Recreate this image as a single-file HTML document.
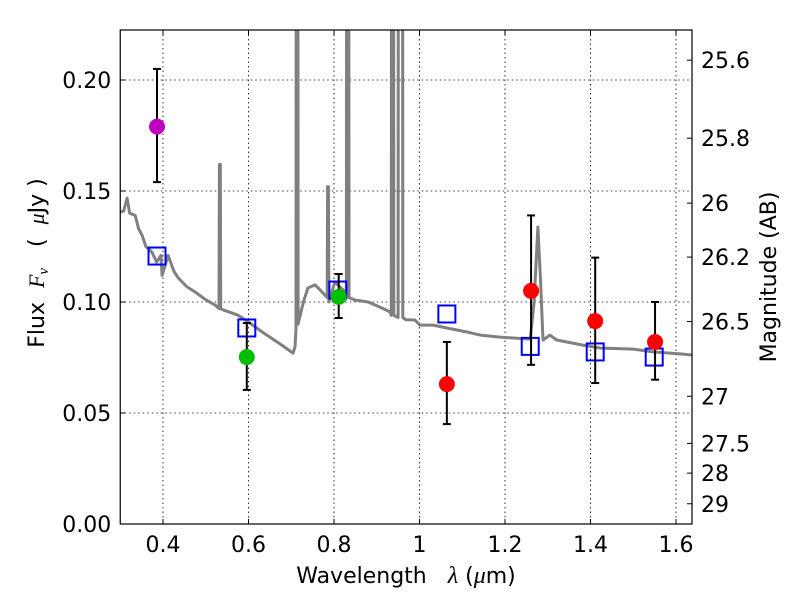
<!DOCTYPE html>
<html><head><meta charset="utf-8">
<style>
body{margin:0;background:#fff;}
svg text{font-family:"DejaVu Sans","Liberation Sans",sans-serif;}
</style></head>
<body>
<svg id="chart" width="800" height="600" viewBox="0 0 800 600" xmlns="http://www.w3.org/2000/svg">
<g id="grid"></g>
<g id="spec"></g>
<g id="marks"></g>
<rect x="120.25" y="30" width="571.75" height="494" fill="none" stroke="#000" stroke-width="1.2"/>
<g id="axes"></g>
<text x="406" y="583" font-size="22" text-anchor="middle" xml:space="preserve">Wavelength   <tspan font-family="Liberation Serif" font-style="italic" font-size="24">λ</tspan> (<tspan font-family="Liberation Serif" font-style="italic" font-size="24">μ</tspan>m)</text>
<text transform="translate(44,263) rotate(-90)" font-size="22" text-anchor="middle" xml:space="preserve">Flux  <tspan font-family="Liberation Serif" font-style="italic">F<tspan font-size="15" dy="4">ν</tspan></tspan><tspan dy="-4">   (  </tspan><tspan font-family="Liberation Serif" font-style="italic">μ</tspan>Jy )</text>
<text transform="translate(776,277) rotate(-90)" font-size="22" text-anchor="middle">Magnitude (AB)</text>
</svg>
<script>
const xTicks=[0.4,0.6,0.8,1,1.2,1.4,1.6];
const xTickLabels=["0.4","0.6","0.8","1","1.2","1.4","1.6"];
const yTicks=[0,0.05,0.10,0.15,0.20];
const yTickLabels=["0.00","0.05","0.10","0.15","0.20"];
const magTicks=[25.6,25.8,26,26.2,26.5,27,27.5,28,29];
const magLabels=["25.6","25.8","26","26.2","26.5","27","27.5","28","29"];
const specWave=[0.300,0.308,0.316,0.322,0.335,0.343,0.351,0.360,0.374,0.385,0.395,0.398,0.412,0.425,0.435,0.455,0.475,0.500,0.522,0.531,0.532,0.534,0.535,0.540,0.575,0.600,0.632,0.678,0.704,0.709,0.711,0.712,0.715,0.716,0.725,0.730,0.739,0.756,0.772,0.784,0.785,0.787,0.788,0.802,0.829,0.830,0.834,0.835,0.849,0.880,0.912,0.931,0.934,0.935,0.939,0.940,0.950,0.951,0.955,0.956,0.960,0.961,0.968,0.969,0.989,1.001,1.032,1.064,1.111,1.142,1.188,1.259,1.268,1.277,1.283,1.289,1.305,1.321,1.382,1.422,1.499,1.546,1.609,1.640];
const specFlux=[0.1405,0.141,0.1468,0.140,0.139,0.133,0.130,0.125,0.1225,0.118,0.121,0.112,0.121,0.114,0.111,0.107,0.1045,0.101,0.0986,0.097,0.162,0.162,0.097,0.0965,0.0941,0.091,0.0865,0.0806,0.077,0.080,0.0883,0.5,0.5,0.090,0.0973,0.101,0.1063,0.1077,0.1045,0.102,0.152,0.152,0.100,0.109,0.104,0.5,0.5,0.102,0.1009,0.100,0.0973,0.0955,0.094,0.5,0.5,0.094,0.093,0.5,0.5,0.5,0.5,0.093,0.092,0.092,0.0919,0.0896,0.0896,0.0883,0.0865,0.0851,0.0842,0.0833,0.100,0.1338,0.110,0.0829,0.0851,0.0829,0.0806,0.0793,0.0788,0.0775,0.0766,0.0761];
const obsWave=[0.386,0.596,0.811,1.064,1.261,1.411,1.551];
const obsFlux=[0.179,0.0752,0.1023,0.063,0.105,0.0914,0.082];
const obsHi=[0.205,0.0905,0.1126,0.082,0.139,0.120,0.100];
const obsLo=[0.154,0.0604,0.0928,0.045,0.0717,0.0635,0.065];
const obsColors=["#bf00bf","#00bf00","#00bf00","#ff0000","#ff0000","#ff0000","#ff0000"];
const modelWave=[0.386,0.596,0.809,1.064,1.259,1.411,1.549];
const modelFlux=[0.1207,0.0883,0.1054,0.0946,0.080,0.0775,0.0752];

const L=120.25,R=692,T=30,B=524;
const X=w=>L+(w-0.3)*427.5;
const Y=f=>B-f*2220;
const NS="http://www.w3.org/2000/svg";
function mk(tag,parent,attrs){const e=document.createElementNS(NS,tag);for(const k in attrs)e.setAttribute(k,attrs[k]);parent.appendChild(e);return e;}
const grid=document.getElementById('grid'),axes=document.getElementById('axes');
xTicks.forEach((t,i)=>{
 const x=X(t);
 const g=mk('line',grid,{x1:x,x2:x,y1:T,y2:B,stroke:'#000','stroke-dasharray':'1.5,3','stroke-width':0.8});
 
 
 mk('line',axes,{x1:x,x2:x,y1:B,y2:B-5,stroke:'#000'});
 mk('line',axes,{x1:x,x2:x,y1:T,y2:T+5,stroke:'#000'});
 const tx=mk('text',axes,{x:x,y:B+28,'font-size':22,'text-anchor':'middle'});
 tx.textContent=xTickLabels[i];
 
 
});
yTicks.forEach((t,i)=>{
 const y=Y(t);
 if(t>0){const g=mk('line',grid,{x1:L,x2:R,y1:y,y2:y,stroke:'#000','stroke-dasharray':'1.5,3','stroke-width':0.8});
 
 }
 mk('line',axes,{x1:L,x2:L+5,y1:y,y2:y,stroke:'#000'});
 const tx=mk('text',axes,{x:L-9,y:y+8,'font-size':22,'text-anchor':'end'});
 tx.textContent=yTickLabels[i];
 
 
});
magTicks.forEach((m,i)=>{
 const y=Y(Math.pow(10,(23.9-m)/2.5));
 mk('line',axes,{x1:R,x2:R-5,y1:y,y2:y,stroke:'#000'});
 const tx=mk('text',axes,{x:R+9,y:y+8,'font-size':22});
 tx.textContent=magLabels[i];
 
 
});
const spec=document.getElementById('spec');
mk('clipPath',spec,{id:'clip'}).appendChild(document.createElementNS(NS,'rect'));
const cr=spec.querySelector('rect');cr.setAttribute('x',L);cr.setAttribute('y',T);cr.setAttribute('width',R-L);cr.setAttribute('height',B-T);
const d=specWave.map((w,i)=>(i?'L':'M')+X(w).toFixed(1)+','+Y(specFlux[i]).toFixed(1)).join(' ');
const p=mk('path',spec,{d:d,fill:'none',stroke:'#808080','stroke-width':3,'clip-path':'url(#clip)','stroke-linejoin':'round'});


const marks=document.getElementById('marks');
modelWave.forEach((w,i)=>{
 const r=mk('rect',marks,{x:X(w)-8.5,y:Y(modelFlux[i])-8.5,width:17,height:17,fill:'none',stroke:'#0000ff','stroke-width':2});
 
 
});
obsWave.forEach((w,i)=>{
 const x=X(w),yh=Y(obsHi[i]),yl=Y(obsLo[i]);
 const e=mk('g',marks,{});
 
 
 mk('line',e,{x1:x,x2:x,y1:yh,y2:yl,stroke:'#000','stroke-width':2});
 mk('line',e,{x1:x-4,x2:x+4,y1:yh,y2:yh,stroke:'#000','stroke-width':2});
 mk('line',e,{x1:x-4,x2:x+4,y1:yl,y2:yl,stroke:'#000','stroke-width':2});
});
obsWave.forEach((w,i)=>{
 const c=mk('circle',marks,{cx:X(w),cy:Y(obsFlux[i]),r:8,fill:obsColors[i]});
 
 
});
</script>
</body></html>
